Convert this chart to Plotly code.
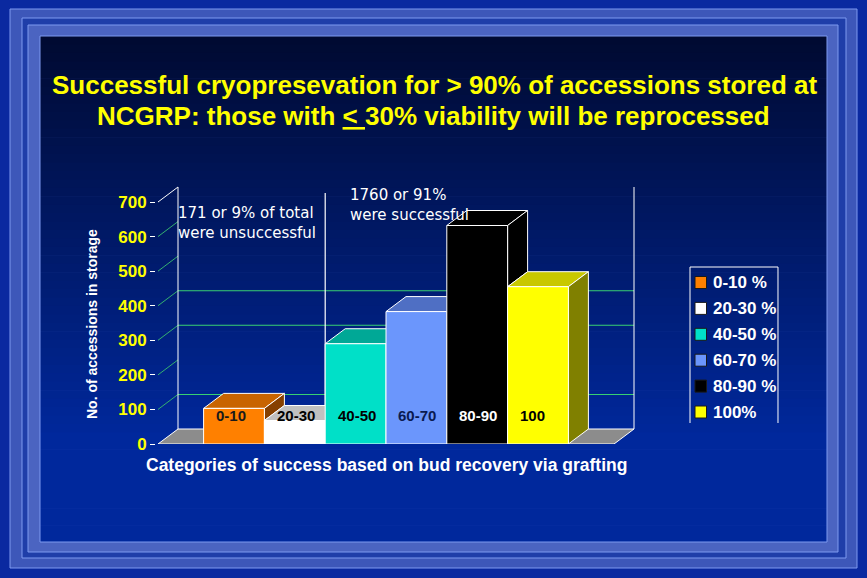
import plotly.graph_objects as go

# ---------------- data ----------------
categories = ["0-10", "20-30", "40-50", "60-70", "80-90", "100"]
legend_labels = ["0-10 %", "20-30 %", "40-50 %", "60-70 %", "80-90 %", "100%"]
counts = [103, 68, 290, 383, 632, 455]
y_ticks = [0, 100, 200, 300, 400, 500, 600, 700]
wall_grid = [100, 300, 400]

front_colors = ["#ff8000", "#ffffff", "#00e0c8", "#6b96fc", "#000000", "#ffff00"]
top_colors = ["#c86400", "#c0c0c0", "#00a896", "#4f6fc4", "#000000", "#c8c800"]
side_colors = ["#864000", "#a0a0a0", "#008a7a", "#3a55a8", "#000000", "#808000"]
label_colors = ["#1a1a1a", "#000000", "#000000", "#0a1a50", "#ffffff", "#000000"]

title_line1 = "Successful cryopresevation for &gt; 90% of accessions stored at"
title_line2 = "NCGRP: those with <u>&lt; </u>30% viability will be reprocessed"
y_title = "No. of accessions in storage"
x_title = "Categories of success based on bud recovery via grafting"
note_left = "171 or 9% of total<br>were unsuccessful"
note_right = "1760 or 91%<br>were successful"

# ---------------- geometry ----------------
W, H = 867, 578          # reference pixel grid
FIG_H = 588              # figure height (compensates viewport scaling)
U = 60.8                 # px per category
K = 242.0 / 700.0        # px per count
X0PX = 234.0             # px of first bar centre
DOM_L, DOM_R = 156, 645
DOM_T, DOM_B = 180, 444
XL, XR = -1.25, 6.25     # floor extent (category units)
DX = 20.0 / U
DY = 15.0 / K


def xp(px):
    return px / W


def yp(py):
    return 1 - py / H


x_range = [(DOM_L - X0PX) / U, (DOM_R - X0PX) / U]
y_range = [0, (DOM_B - DOM_T) / K]

fig = go.Figure()

shapes = []

# ---- slide frame ----
frame_line = "#7e9af0"
for (x0, y0, x1, y1, fill) in [(10, 9, 857, 568, "#3d57b9"),
                               (22, 18, 846, 558, "#1f3ea9"),
                               (28, 25, 838, 552, "#4b64c1")]:
    shapes.append(dict(type="rect", xref="paper", yref="paper",
                       x0=xp(x0), x1=xp(x1), y0=yp(y0), y1=yp(y1),
                       fillcolor=fill, line=dict(color=frame_line, width=1),
                       layer="below"))

# inner gradient panel
top_c = (0, 10, 50)
bot_c = (0, 40, 156)
n = 60
py0, py1 = 36, 542
for k in range(n):
    t = k / (n - 1)
    tt = min(1.0, t * 1.25)
    c = tuple(int(round(a + (b - a) * tt)) for a, b in zip(top_c, bot_c))
    ya = py0 + (py1 - py0) * k / n
    yb = py0 + (py1 - py0) * (k + 1) / n + 0.6
    shapes.append(dict(type="rect", xref="paper", yref="paper",
                       x0=xp(40), x1=xp(827), y0=yp(ya), y1=yp(min(yb, py1)),
                       fillcolor="rgb(%d,%d,%d)" % c, line=dict(width=0),
                       layer="below"))
shapes.append(dict(type="rect", xref="paper", yref="paper",
                   x0=xp(40), x1=xp(827), y0=yp(36), y1=yp(542),
                   fillcolor="rgba(0,0,0,0)", line=dict(color=frame_line, width=1),
                   layer="below"))

# ---- 3D walls ----
green = "#38d072"
for v in wall_grid:
    shapes.append(dict(type="line", xref="x", yref="y",
                       x0=XL + DX, x1=XR + DX, y0=v + DY, y1=v + DY,
                       line=dict(color=green, width=1.1), layer="below"))
for v in y_ticks[1:]:
    shapes.append(dict(type="line", xref="x", yref="y",
                       x0=XL, x1=XL + DX, y0=v, y1=v + DY,
                       line=dict(color="#ffffff" if v == y_ticks[-1] else "#34b070", width=1),
                       layer="below"))
for xx in (XL + DX, XR + DX):
    shapes.append(dict(type="line", xref="x", yref="y",
                       x0=xx, x1=xx, y0=DY, y1=y_ticks[-1] + DY,
                       line=dict(color="#ffffff", width=1), layer="below"))
# floor
shapes.append(dict(type="path", xref="x", yref="y",
                   path="M %f,0 L %f,0 L %f,%f L %f,%f Z" % (XL, XR, XR + DX, DY, XL + DX, DY),
                   fillcolor="#8c8c8c", line=dict(color="#ffffff", width=1), layer="below"))
# separator between unsuccessful / successful
shapes.append(dict(type="line", xref="x", yref="y",
                   x0=1.5, x1=1.5, y0=0, y1=726,
                   line=dict(color="#ffffff", width=1.2), layer="below"))

# ---- bars (front faces) + 3D faces ----
for i, (cat, v) in enumerate(zip(categories, counts)):
    fig.add_trace(go.Bar(
        x=[i], y=[v], width=[1], name=legend_labels[i],
        marker=dict(color=front_colors[i], line=dict(color="#ffffff", width=1)),
        showlegend=False, hovertemplate=cat + ": %{y}<extra></extra>"))
    x0, x1 = i - 0.5, i + 0.5
    shapes.append(dict(type="path", xref="x", yref="y",
                       path="M %f,%f L %f,%f L %f,%f L %f,%f Z" % (
                           x0, v, x1, v, x1 + DX, v + DY, x0 + DX, v + DY),
                       fillcolor=top_colors[i], line=dict(color="#ffffff", width=1),
                       layer="below"))
    if i == len(counts) - 1:
        low = 0
    else:
        low = counts[i + 1]
    if low < v:
        shapes.append(dict(type="path", xref="x", yref="y",
                           path="M %f,%f L %f,%f L %f,%f L %f,%f Z" % (
                               x1, low, x1, v, x1 + DX, v + DY, x1 + DX, low + DY),
                           fillcolor=side_colors[i], line=dict(color="#ffffff", width=1),
                           layer="below"))

annotations = []
for i, cat in enumerate(categories):
    annotations.append(dict(x=i - 0.5 + 0.17, y=29 / K, xref="x", yref="y",
                            text="<b>%s</b>" % cat, showarrow=False,
                            xanchor="left", yanchor="middle",
                            font=dict(family="Liberation Sans, Arial", size=15,
                                      color=label_colors[i])))

# ---- manual legend ----
LX0, LX1, LY0, LY1 = 690, 778, 267, 423
shapes.append(dict(type="path", xref="paper", yref="paper",
                   path="M %f,%f L %f,%f L %f,%f L %f,%f" % (
                       xp(LX0), yp(LY1), xp(LX0), yp(LY0), xp(LX1), yp(LY0), xp(LX1), yp(LY1)),
                   line=dict(color="#ffffff", width=1)))
for i, lab in enumerate(legend_labels):
    cy = 282.5 + 25.9 * i
    shapes.append(dict(type="rect", xref="paper", yref="paper",
                       x0=xp(695), x1=xp(706.5), y0=yp(cy - 6), y1=yp(cy + 6),
                       fillcolor=front_colors[i], line=dict(color="#1a1a1a", width=1)))
    annotations.append(dict(x=xp(711), y=yp(cy), xref="paper", yref="paper",
                            text="<b>%s</b>" % lab, showarrow=False,
                            xanchor="left", yanchor="middle",
                            font=dict(family="Liberation Sans, Arial", size=17, color="#ffffff")))

# ---- texts ----
title_font = dict(family="Liberation Sans, Arial", size=26, color="#ffff00")
annotations += [
    dict(x=xp(434), y=yp(85), xref="paper", yref="paper", text="<b>%s</b>" % title_line1,
         showarrow=False, xanchor="center", yanchor="middle", font=title_font),
    dict(x=xp(433), y=yp(116), xref="paper", yref="paper", text="<b>%s</b>" % title_line2,
         showarrow=False, xanchor="center", yanchor="middle", font=title_font),
    dict(x=xp(92), y=yp(324), xref="paper", yref="paper", text="<b>%s</b>" % y_title,
         showarrow=False, textangle=-90, xanchor="center", yanchor="middle",
         font=dict(family="Liberation Sans, Arial", size=14, color="#ffffff")),
    dict(x=xp(386), y=yp(465), xref="paper", yref="paper", text="<b>%s</b>" % x_title,
         showarrow=False, xanchor="center", yanchor="middle",
         font=dict(family="Liberation Sans, Arial", size=17.5, color="#ffffff")),
    dict(x=xp(176), y=yp(222.5), xref="paper", yref="paper", text=note_left,
         showarrow=False, xanchor="left", yanchor="middle", align="left",
         font=dict(family="DejaVu Sans", size=15, color="#ffffff")),
    dict(x=xp(348), y=yp(204.5), xref="paper", yref="paper", text=note_right,
         showarrow=False, xanchor="left", yanchor="middle", align="left",
         font=dict(family="DejaVu Sans", size=15, color="#ffffff")),
]

fig.update_layout(
    width=W, height=FIG_H,
    margin=dict(l=0, r=0, t=0, b=0),
    paper_bgcolor="#0a29a0",
    plot_bgcolor="rgba(0,0,0,0)",
    barmode="overlay",
    showlegend=False,
    shapes=shapes,
    annotations=annotations,
    xaxis=dict(domain=[xp(DOM_L), xp(DOM_R)], range=x_range, visible=False, fixedrange=True),
    yaxis=dict(domain=[yp(DOM_B), yp(DOM_T)], range=y_range,
               tickvals=y_ticks, ticktext=[str(v) for v in y_ticks],
               ticks="outside", ticklen=5, tickcolor="#ffffff", tickwidth=1,
               tickfont=dict(family="Liberation Sans, Arial", size=17, color="#ffff00",
                             weight="bold"),
               showgrid=False, zeroline=False, showline=False, fixedrange=True),
)

fig.write_html("out.html", config={"displayModeBar": False},
               post_script="document.body.style.margin='0px';document.body.style.padding='0px';"
                           "document.body.style.overflow='hidden';")
